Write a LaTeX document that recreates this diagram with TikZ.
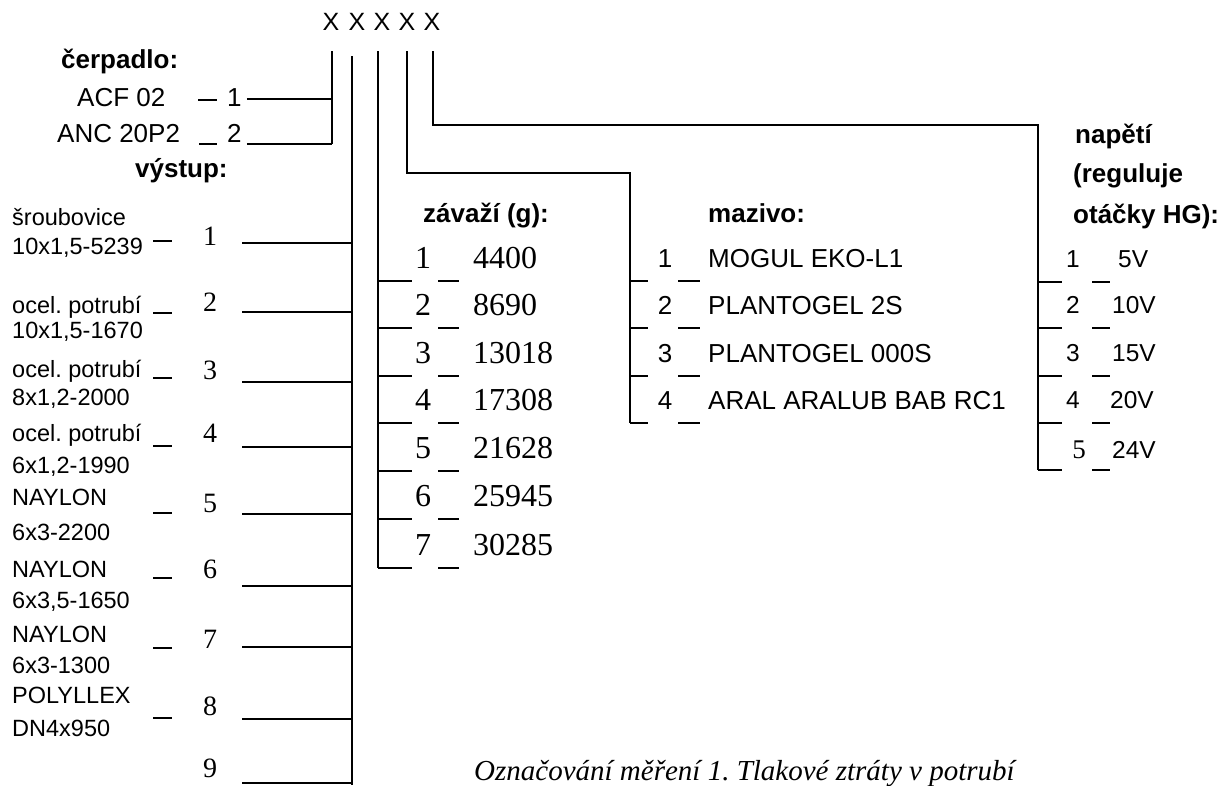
\documentclass[tikz,border=0pt]{standalone}
\usepackage{fontspec}
\setmainfont{Liberation Sans}
\newfontfamily\timesf{Liberation Serif}
\usetikzlibrary{positioning,calc}
\newcommand{\fsz}[1]{\fontsize{#1}{#1}\selectfont}
\frenchspacing

\begin{document}
\begin{tikzpicture}[x=1pt, y=-1pt,
	wire/.style={line width=1.5pt},
	tick/.style={line width=1.5pt},
	head/.style={font=\fsz{26}\bfseries, inner sep=0pt, anchor=base west},
	lab/.style={font=\fsz{26}, inner sep=0pt, anchor=base west},
	small/.style={font=\fsz{23.5}, inner sep=0pt, anchor=base west},
	snum/.style={font=\timesf\fsz{28}, inner sep=0pt, anchor=base},
	bnum/.style={font=\timesf\fsz{32}, inner sep=0pt, anchor=base},
	vlab/.style={font=\fsz{24.5}, inner sep=0pt, anchor=base west},
	code/.style={font=\fsz{25}, inner sep=0pt}]
	\useasboundingbox (0,0) rectangle (1232,785);

	% code positions
	\foreach \i/\xx in {1/331,2/357,3/382,4/407,5/432}
		\node[code] (X\i) at (\xx,22) {X};

	% pump
	\node[head] (cerpadlo) at (61,68) {čerpadlo:};
	\node[lab] (acf) at (77,106) {ACF 02};
	\node[lab, inner xsep=5pt] (acfn) at (222,106) {1};
	\node[lab] (anc) at (57,142) {ANC 20P2};
	\node[lab, inner xsep=5pt] (ancn) at (222,142) {2};
	\coordinate (c1) at (332,51);
	\coordinate (c1a) at (332,99);
	\coordinate (c1b) at (332,144);
	\draw[wire] (c1) -- (c1b);
	\draw[wire] (acfn.east |- c1a) -- (c1a);
	\draw[wire] (ancn.east |- c1b) -- (c1b);
	\draw[tick] (198,100) -- (217,100);
	\draw[tick] (199,144) -- (217,144);

	% outlet
	\node[head] (vystup) at (135,177) {výstup:};
	\coordinate (c2) at (352,56);
	\coordinate (c2b) at (352,785);
	\draw[wire] (c2) -- (c2b);
	\foreach \i/\ly/\nb/\ta/\la/\tb/\lb/\ty in {
		1/243/245/225/{šroubovice}/254/{10x1,5-5239}/241,
		2/312/311/313/{ocel. potrubí}/338/{10x1,5-1670}/313,
		3/382/379/377/{ocel. potrubí}/405/{8x1,2-2000}/378,
		4/447/442/441/{ocel. potrubí}/473/{6x1,2-1990}/446,
		5/514/512/505/{NAYLON}/540/{6x3-2200}/513,
		6/586/578/577/{NAYLON}/608/{6x3,5-1650}/578,
		7/647/648/642/{NAYLON}/673/{6x3-1300}/648,
		8/719/715/703/{POLYLLEX}/736/{DN4x950}/718} {
		\node[snum] (vn\i) at (210,\nb) {\i};
		\node[small] (va\i) at (12,\ta) {\la};
		\node[small] (vb\i) at (12,\tb) {\lb};
		\coordinate (vs\i) at (242,\ly);
		\coordinate (ve\i) at (352,\ly);
		\draw[wire] (vs\i) -- (ve\i);
		\draw[tick] (153,\ty) -- (172,\ty);
	}
	\node[snum] (vn9) at (210,777) {9};
	\coordinate (vs9) at (242,783);
	\coordinate (ve9) at (352,783);
	\draw[wire] (vs9) -- (ve9);

	% weight
	\node[head] (zavazi) at (423,222) {závaží (g):};
	\coordinate (c3) at (378,51);
	\coordinate (c3b) at (378,568);
	\draw[wire] (c3) -- (c3b);
	\foreach \i/\ly/\val in {1/281/4400,2/328/8690,3/376/13018,4/423/17308,
		5/471/21628,6/519/25945,7/568/30285} {
		\node[bnum] (zn\i) at (423,\ly-13) {\i};
		\node[bnum, anchor=base west] (zv\i) at (473,\ly-13) {\val};
		\coordinate (zl\i) at (378,\ly);
		\coordinate (zr\i) at (412,\ly);
		\draw[wire] (zl\i) -- (zr\i);
		\draw[tick] (438,\ly) -- (459,\ly);
	}

	% lubricant
	\node[head] (mazivo) at (708,222) {mazivo:};
	\coordinate (c4) at (407,51);
	\coordinate (c4k) at (407,173);
	\coordinate (c4m) at (630,173);
	\coordinate (c4b) at (630,423);
	\draw[wire] (c4) -- (c4k) -- (c4m) -- (c4b);
	\foreach \i/\ly/\txt in {1/281/MOGUL EKO-L1,2/328/PLANTOGEL 2S,
		3/376/PLANTOGEL 000S,4/423/ARAL ARALUB BAB RC1} {
		\node[lab, anchor=base] (mn\i) at (665,\ly-14) {\i};
		\node[lab] (mt\i) at (708,\ly-14) {\txt};
		\coordinate (ml\i) at (630,\ly);
		\coordinate (mr\i) at (648,\ly);
		\draw[wire] (ml\i) -- (mr\i);
		\draw[tick] (678,\ly) -- (700,\ly);
	}

	% voltage
	\node[head] (napeti) at (1075,143) {napětí};
	\node[head] (napetib) at (1073,182) {(reguluje};
	\node[head] (napetic) at (1073,223) {otáčky HG):};
	\coordinate (c5) at (433,51);
	\coordinate (c5k) at (433,125);
	\coordinate (c5m) at (1038,125);
	\coordinate (c5b) at (1038,470);
	\draw[wire] (c5) -- (c5k) -- (c5m) -- (c5b);
	\foreach \i/\ly/\xx/\txt in {1/282/1118/5V,2/328/1112/10V,3/376/1112/15V,4/423/1110/20V} {
		\node[vlab, anchor=base] (un\i) at (1073,\ly-15) {\i};
		\node[vlab] (ut\i) at (\xx,\ly-15) {\txt};
	}
	\node[bnum, font=\timesf\fsz{27}] (un5) at (1079,458) {5};
	\node[vlab] (ut5) at (1112,458) {24V};
	\foreach \i/\ly in {1/282,2/328,3/376,4/423,5/470} {
		\coordinate (ul\i) at (1038,\ly);
		\coordinate (ur\i) at (1062,\ly);
		\draw[wire] (ul\i) -- (ur\i);
		\draw[tick] (1092,\ly) -- (1110,\ly);
	}

	% caption
	\node[font=\timesf\itshape\fsz{29}, inner sep=0pt, anchor=base west] (caption)
		at (474,780) {Označování měření 1. Tlakové ztráty v potrubí};
\end{tikzpicture}
\end{document}
